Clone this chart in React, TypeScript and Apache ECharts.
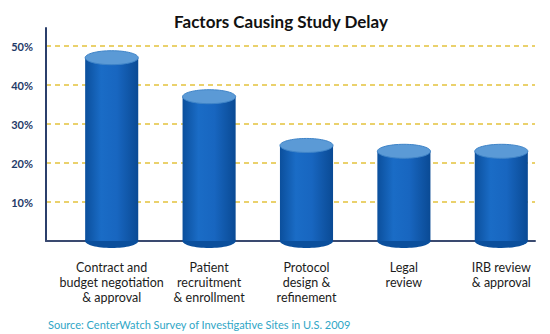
import React, { useEffect, useRef } from "react";
import * as echarts from "echarts";

const categories = [
  "Contract and\nbudget negotiation\n& approval",
  "Patient\nrecruitment\n& enrollment",
  "Protocol\ndesign &\nrefinement",
  "Legal\nreview",
  "IRB review\n& approval",
];
const values = [47, 37, 24.5, 23, 23];
const yTicks = [0, 10, 20, 30, 40, 50];
const titleText = "Factors Causing Study Delay";
const sourceText = "Source: CenterWatch Survey of Investigative Sites in U.S. 2009";

const FONT = "Lato, 'Liberation Sans', sans-serif";

export default function App() {
  const ref = useRef<HTMLDivElement>(null);
  useEffect(() => {
    if (!ref.current) return;
    const chart = echarts.init(ref.current, null, { renderer: "svg" });
    const bodyGrad = new echarts.graphic.LinearGradient(0, 0, 1, 0, [
      { offset: 0, color: "#0b4f9c" },
      { offset: 0.3, color: "#1a6cc6" },
      { offset: 0.6, color: "#1866c0" },
      { offset: 1, color: "#0a4a94" },
    ]);
    const option: any = {
      animation: false,
      backgroundColor: "#ffffff",
      title: {
        text: titleText,
        left: 276,
        top: 8,
        textAlign: "center",
        textStyle: { fontFamily: FONT, fontWeight: "bold", fontSize: 17, color: "#111" },
      },
      graphic: [
        {
          type: "text",
          left: 48,
          top: 319,
          style: { text: sourceText, fill: "#2fa6c6", font: "11px " + FONT },
        },
      ],
      grid: [
        { left: 46, right: 15, top: 46, bottom: 93 },
        { left: 46, right: 15, top: 28, bottom: 93 },
        { left: 63, right: -4, top: 46, bottom: 93 },
      ],
      xAxis: [
        { gridIndex: 0, type: "value", show: false, min: 0, max: 1 },
        {
          gridIndex: 1,
          type: "value",
          min: 0,
          max: 1,
          axisLine: { show: true, lineStyle: { color: "#3a4a70", width: 2 } },
          axisTick: { show: false },
          axisLabel: { show: false },
          splitLine: { show: false },
        },
        {
          gridIndex: 2,
          type: "category",
          data: categories,
          axisLine: { show: false },
          axisTick: { show: false },
          axisLabel: {
            margin: 19,
            interval: 0,
            fontFamily: FONT,
            fontSize: 12.5,
            lineHeight: 15,
            color: "#1c1c1c",
            align: "center",
          },
        },
      ],
      yAxis: [
        {
          gridIndex: 0,
          type: "value",
          min: yTicks[0],
          max: yTicks[yTicks.length - 1],
          interval: 10,
          axisLine: { show: false },
          axisTick: { show: false },
          axisLabel: {
            margin: 13,
            fontFamily: FONT,
            fontWeight: "bold",
            fontSize: 11,
            color: "#1f3a68",
            formatter: (v: number) => (v === 0 ? "" : v + "%"),
          },
          splitLine: {
            show: true,
            lineStyle: { color: "#e3c23c", type: [5, 4], width: 1.5 },
          },
        },
        {
          gridIndex: 1,
          type: "value",
          min: 0,
          max: 1,
          axisLine: { show: true, lineStyle: { color: "#2b3f6b", width: 2 } },
          axisTick: { show: false },
          axisLabel: { show: false },
          splitLine: { show: false },
        },
        { gridIndex: 2, type: "value", min: 0, max: 50, show: false },
      ],
      series: [
        {
          type: "custom",
          xAxisIndex: 2,
          yAxisIndex: 2,
          z: 10,
          clip: false,
          data: values.map((v, i) => [i, v]),
          renderItem: (params: any, api: any) => {
            const idx = api.value(0);
            const top = api.coord([idx, api.value(1)]);
            const bot = api.coord([idx, 0]);
            const w = api.size([1, 0])[0] * 0.545;
            const rx = w / 2;
            const ry = 7;
            const cx = top[0];
            return {
              type: "group",
              children: [
                {
                  type: "ellipse",
                  shape: { cx, cy: bot[1], rx, ry },
                  style: { fill: "#0b4f9c" },
                },
                {
                  type: "rect",
                  shape: { x: cx - rx, y: top[1], width: w, height: bot[1] - top[1] },
                  style: { fill: bodyGrad },
                },
                {
                  type: "ellipse",
                  shape: { cx, cy: top[1], rx, ry },
                  style: { fill: "#5b9ad6", stroke: "#3f84c8", lineWidth: 1 },
                },
              ],
            };
          },
        },
      ],
    };
    chart.setOption(option);
    return () => chart.dispose();
  }, []);
  return <div ref={ref} style={{ width: 550, height: 334, position: "absolute", left: 0, top: 0 }} />;
}
